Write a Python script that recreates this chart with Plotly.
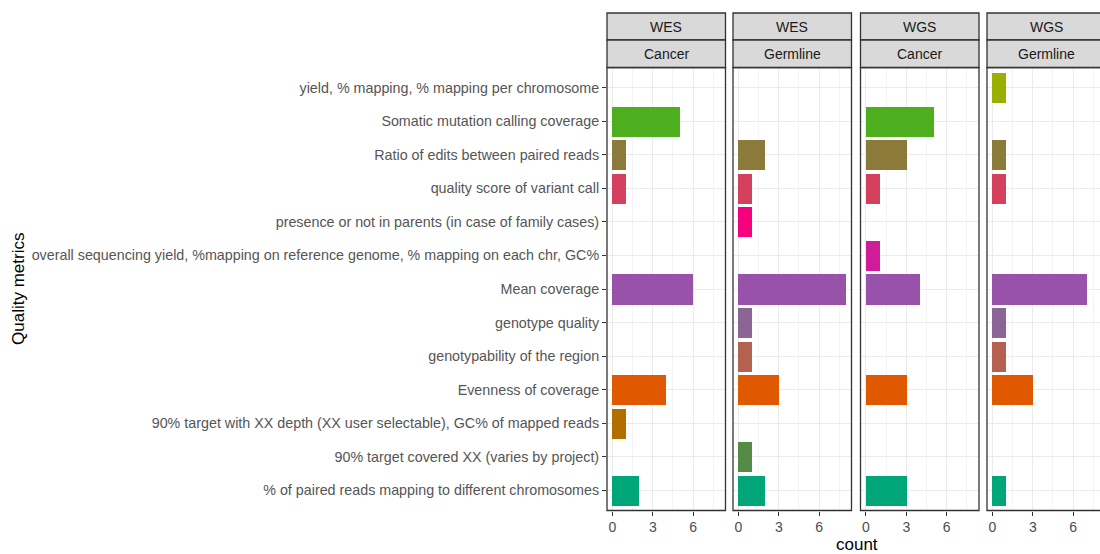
import plotly.graph_objects as go

# categories, top to bottom as in the chart
metrics = [
    "yield, % mapping, % mapping per chromosome",
    "Somatic mutation calling coverage",
    "Ratio of edits between paired reads",
    "quality score of variant call",
    "presence or not in parents (in case of family cases)",
    "overall sequencing yield, %mapping on reference genome, % mapping on each chr, GC%",
    "Mean coverage",
    "genotype quality",
    "genotypability of the region",
    "Evenness of coverage",
    "90% target with XX depth (XX user selectable), GC% of mapped reads",
    "90% target covered XX (varies by project)",
    "% of paired reads mapping to different chromosomes",
]
metric_colors = [
    "#9AAF00", "#4DAF1D", "#8B7A3A", "#D3415F", "#F7007E", "#D11C9A", "#9952AA",
    "#8A6596", "#B56150", "#E05800", "#B26F00", "#558B47", "#00A578",
]

seq_type = ["WES", "WES", "WGS", "WGS"]
sample_type = ["Cancer", "Germline", "Cancer", "Germline"]

# counts per metric (same order as metrics), 0 = no bar
wes_cancer = [0, 5, 1, 1, 0, 0, 6, 0, 0, 4, 1, 0, 2]
wes_germline = [0, 0, 2, 1, 1, 0, 8, 1, 1, 3, 0, 1, 2]
wgs_cancer = [0, 5, 3, 1, 0, 1, 4, 0, 0, 3, 0, 0, 3]
wgs_germline = [1, 0, 1, 1, 0, 0, 7, 1, 1, 3, 0, 0, 1]
panels = [wes_cancer, wes_germline, wgs_cancer, wgs_germline]

W, H = 1100, 554
px_x = lambda v: v / W
px_y = lambda v: 1 - v / H

panel_x = [(607, 725.5), (733, 851.5), (860.5, 979), (987, 1105.5)]
top, bot = 67.5, 510.5
ppu = 118.5 / 8.8  # pixels per count unit

FONT = "Liberation Sans, Arial, sans-serif"
fig = go.Figure()

for i, vals in enumerate(panels):
    ys = [m for m, v in zip(metrics, vals) if v > 0]
    xs = [v for v in vals if v > 0]
    cs = [c for c, v in zip(metric_colors, vals) if v > 0]
    sfx = "" if i == 0 else str(i + 1)
    fig.add_trace(go.Bar(x=xs, y=ys, orientation="h", width=0.9,
                         marker=dict(color=cs, line=dict(width=0)),
                         xaxis="x" + sfx, yaxis="y" + sfx, showlegend=False))

    x0, x1 = panel_x[i]
    dom_right = min(x1, W)
    xmax = -0.4 + (dom_right - x0) / ppu
    fig.layout["xaxis" + sfx] = dict(
        domain=[px_x(x0), px_x(dom_right)], anchor="y" + sfx, range=[-0.4, xmax],
        tickmode="array", tickvals=[0, 3, 6], ticks="outside", ticklen=4,
        tickcolor="#333333", tickfont=dict(size=14, color="#4D4D4D", family=FONT),
        showgrid=True, gridcolor="#EBEBEB", gridwidth=1, zeroline=False,
        showline=False,
        minor=dict(tickmode="array", tickvals=[1.5, 4.5, 7.5], showgrid=True,
                   gridcolor="#F4F4F4", gridwidth=0.6),
    )
    fig.layout["yaxis" + sfx] = dict(
        domain=[px_y(bot), px_y(top)], anchor="x" + sfx, type="category",
        categoryorder="array", categoryarray=metrics[::-1], range=[-0.6, 12.6],
        showticklabels=(i == 0), ticks="outside" if i == 0 else "", ticklen=4,
        tickcolor="#333333", tickfont=dict(size=14.3, color="#555555", family=FONT),
        showgrid=True, gridcolor="#EBEBEB", gridwidth=1, zeroline=False,
        showline=False,
    )
    if i > 0:
        fig.layout["yaxis" + sfx]["matches"] = "y"

    # panel border
    fig.add_shape(type="rect", xref="paper", yref="paper",
                  x0=px_x(x0), x1=px_x(x1), y0=px_y(bot), y1=px_y(top),
                  line=dict(color="#333333", width=1.3), layer="above")
    # strips
    for (s0, s1), label in [((13, 40), seq_type[i]), ((40, 67.5), sample_type[i])]:
        fig.add_shape(type="rect", xref="paper", yref="paper",
                      x0=px_x(x0), x1=px_x(x1), y0=px_y(s1), y1=px_y(s0),
                      fillcolor="#D9D9D9", line=dict(color="#333333", width=1.3))
        fig.add_annotation(x=px_x((x0 + x1) / 2), y=px_y((s0 + s1) / 2),
                           xref="paper", yref="paper", text=label, showarrow=False,
                           font=dict(size=14, color="#1A1A1A", family=FONT),
                           xanchor="center", yanchor="middle")

fig.add_annotation(x=px_x(857), y=px_y(544), xref="paper", yref="paper",
                   text="count", showarrow=False, xanchor="center", yanchor="middle",
                   font=dict(size=17, color="#000000", family=FONT))
fig.add_annotation(x=px_x(18), y=px_y((top + bot) / 2), xref="paper", yref="paper",
                   text="Quality metrics", showarrow=False, textangle=-90,
                   xanchor="center", yanchor="middle",
                   font=dict(size=17, color="#000000", family=FONT))

fig.update_layout(width=W, height=H, margin=dict(l=0, r=0, t=0, b=0),
                  paper_bgcolor="white", plot_bgcolor="white", bargap=0)

# drop the default 8px body margin so the figure fills the window exactly
fig.write_html("out.html", config={"displayModeBar": False},
               post_script="document.body.style.margin='0';document.body.style.overflow='hidden';")
